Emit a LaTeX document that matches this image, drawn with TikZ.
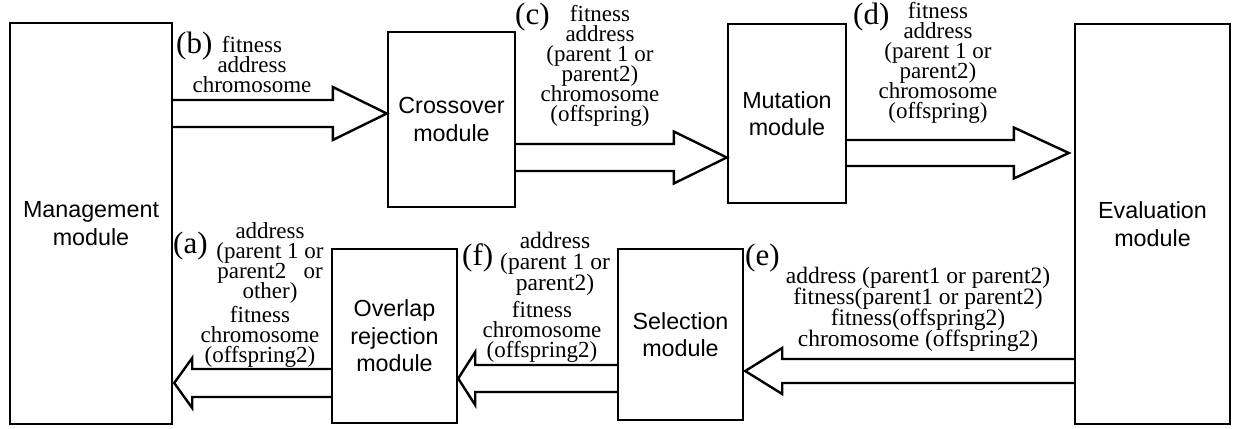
\documentclass[tikz,border=0pt]{standalone}
\usepackage{fontspec}
\setmainfont{Liberation Serif}
\newfontfamily\boxfont{Liberation Sans}
\usetikzlibrary{calc}
\setlength\lineskiplimit{-30pt}
\tikzset{
  box/.style={draw, line width=2.4pt, inner sep=0pt, align=center,
    font=\boxfont\fontsize{23.3}{27.5}\selectfont},
  blk/.style={draw, line width=2.4pt, line join=miter},
  lab/.style={inner sep=0pt, align=center, anchor=north,
    font=\fontsize{23}{20}\selectfont},
  labw/.style={lab, font=\fontsize{23.5}{21}\selectfont},
  tag/.style={inner sep=0pt, anchor=base west, font=\fontsize{31}{31}\selectfont},
}
% right-pointing block arrow: from, to, y-centre, shaft half, head half, head length, gap
\newcommand\rarr[7]{%
  \draw[blk] let \p1=(#1.east), \p2=(#2.west) in
    (\x1,{-(#3-#4)*1pt}) -- ({\x2-(#7+#6)*1pt},{-(#3-#4)*1pt})
    -- ({\x2-(#7+#6)*1pt},{-(#3-#5)*1pt}) -- ({\x2-#7*1pt},{-#3*1pt})
    -- ({\x2-(#7+#6)*1pt},{-(#3+#5)*1pt}) -- ({\x2-(#7+#6)*1pt},{-(#3+#4)*1pt})
    -- (\x1,{-(#3+#4)*1pt});}
% left-pointing block arrow
\newcommand\larr[7]{%
  \draw[blk] let \p1=(#1.west), \p2=(#2.east) in
    (\x1,{-(#3-#4)*1pt}) -- ({\x2+(#7+#6)*1pt},{-(#3-#4)*1pt})
    -- ({\x2+(#7+#6)*1pt},{-(#3-#5)*1pt}) -- ({\x2+#7*1pt},{-#3*1pt})
    -- ({\x2+(#7+#6)*1pt},{-(#3+#5)*1pt}) -- ({\x2+(#7+#6)*1pt},{-(#3+#4)*1pt})
    -- (\x1,{-(#3+#4)*1pt});}
\begin{document}
\begin{tikzpicture}[x=1pt,y=1pt]
\fill[white] (0,0) rectangle (1238,-428);
\useasboundingbox (0,0) rectangle (1238,-428);

\node[box, minimum width=162pt, minimum height=401pt] (mgmt) at (91,-223.5) {Management\\module};
\node[box, minimum width=127pt, minimum height=175pt] (cross) at (451.5,-119.5) {Crossover\\module};
\node[box, minimum width=118pt, minimum height=179pt] (mut) at (787,-113.5) {Mutation\\module};
\node[box, minimum width=155pt, minimum height=400pt] (eval) at (1152.5,-224) {Evaluation\\module};
\node[box, minimum width=125pt, minimum height=174pt] (over) at (394.5,-336) {Overlap\\rejection\\module};
\node[box, minimum width=125pt, minimum height=171pt] (sel) at (680.5,-334.5) {Selection\\module};

\rarr{mgmt}{cross}{113.5}{13.5}{26.5}{54}{0}
\rarr{cross}{mut}{157.5}{13.5}{26}{53}{0}
\rarr{mut}{eval}{153}{13}{25.5}{55}{5}
\larr{over}{mgmt}{383}{14}{25}{18}{1}
\larr{sel}{over}{378.5}{13.5}{26.5}{17}{0}
\larr{eval}{sel}{371}{12}{23}{37}{1}

\node[tag] (tb) at (176,-54) {(b)};
\node[lab] (lb) at (252,-36) {fitness\\address\\chromosome};
\node[tag] (tc) at (515,-25) {(c)};
\node[lab] (lc) at (600,-5) {fitness\\address\\(parent 1 or\\parent2)\\chromosome\\(offspring)};
\node[tag] (td) at (853,-25) {(d)};
\node[lab] (ld) at (938,-2) {fitness\\address\\(parent 1 or\\parent2)\\chromosome\\(offspring)};
\node[tag] (ta) at (173,-253) {(a)};
\node[lab] (la1) at (270,-222) {address\\(parent 1 or\\parent2~~ or\\other)};
\node[lab] (la2) at (260,-306) {fitness\\chromosome\\(offspring2)};
\node[tag] (tf) at (462,-265) {(f)};
\node[labw] (lf1) at (555,-232) {address\\(parent 1 or\\parent2)};
\node[lab] (lf2) at (542,-301) {fitness\\chromosome\\(offspring2)};
\node[tag] (te) at (745,-265) {(e)};
\node[labw] (le) at (918,-267) {address (parent1 or parent2)\\fitness(parent1 or parent2)\\fitness(offspring2)\\chromosome (offspring2)};
\end{tikzpicture}
\end{document}
